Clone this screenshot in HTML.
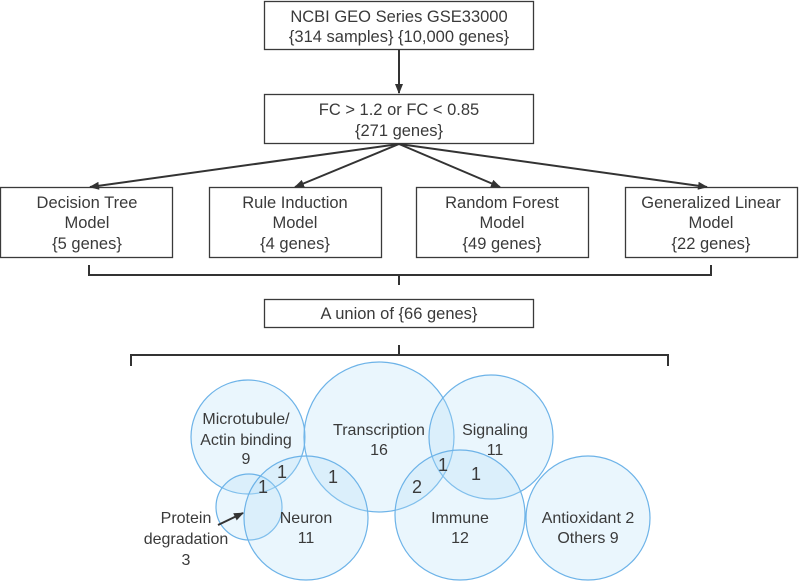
<!DOCTYPE html>
<html><head><meta charset="utf-8"><style>
html,body{margin:0;padding:0;background:#fff;}
svg{display:block;}
text{font-family:"Liberation Sans",Arial,sans-serif;fill:#3a3a3a;}
</style></head><body>
<svg width="799" height="581" viewBox="0 0 799 581" xmlns="http://www.w3.org/2000/svg">
<defs>
<marker id="ah" markerWidth="10" markerHeight="8" refX="9" refY="4" orient="auto" markerUnits="userSpaceOnUse">
<path d="M0,0 L10,4 L0,8 z" fill="#333"/>
</marker>
</defs>
<g fill="#fff" stroke="#3a3a3a" stroke-width="1.3">
<rect x="264.5" y="1.5" width="269" height="48"/>
<rect x="264.5" y="94.5" width="269" height="49"/>
<rect x="0.5" y="187.5" width="172" height="70"/>
<rect x="209.5" y="187.5" width="172" height="70"/>
<rect x="416.5" y="187.5" width="172" height="70"/>
<rect x="625.5" y="187.5" width="172" height="70"/>
<rect x="264.5" y="299.5" width="269" height="28"/>
</g>
<g stroke="#333" stroke-width="2" fill="none">
<line x1="399" y1="50" x2="399" y2="93" marker-end="url(#ah)"/>
<line x1="399" y1="144" x2="90" y2="187" marker-end="url(#ah)"/>
<line x1="399" y1="144" x2="295" y2="187" marker-end="url(#ah)"/>
<line x1="399" y1="144" x2="500" y2="187" marker-end="url(#ah)"/>
<line x1="399" y1="144" x2="707" y2="187" marker-end="url(#ah)"/>
<path d="M89,265 V275 H711 V265 M399,275 V285"/>
<path d="M131,366 V355 H668 V366 M399,355 V345"/>
</g>
<g font-size="16.5" text-anchor="middle">
<text x="399" y="22">NCBI GEO Series GSE33000</text>
<text x="399" y="42">{314 samples} {10,000 genes}</text>
<text x="399" y="115">FC &gt; 1.2 or FC &lt; 0.85</text>
<text x="399" y="136">{271 genes}</text>
<text x="87" y="208">Decision Tree</text><text x="87" y="228">Model</text><text x="87" y="249">{5 genes}</text>
<text x="295" y="208">Rule Induction</text><text x="295" y="228">Model</text><text x="295" y="249">{4 genes}</text>
<text x="502" y="208">Random Forest</text><text x="502" y="228">Model</text><text x="502" y="249">{49 genes}</text>
<text x="711" y="208">Generalized Linear</text><text x="711" y="228">Model</text><text x="711" y="249">{22 genes}</text>
<text x="399" y="319">A union of {66 genes}</text>
</g>
<g fill="rgba(180,222,248,0.28)" stroke="#6db3e8" stroke-width="1.2">
<circle cx="248" cy="437" r="57"/>
<circle cx="379" cy="437" r="75"/>
<circle cx="491" cy="437" r="62"/>
<circle cx="249" cy="507" r="33"/>
<circle cx="306" cy="518" r="62"/>
<circle cx="460" cy="515" r="65"/>
<circle cx="588" cy="518" r="62"/>
</g>
<g font-size="16" text-anchor="middle">
<text x="246" y="424">Microtubule/</text>
<text x="246" y="445">Actin binding</text>
<text x="246" y="464">9</text>
<text x="379" y="435">Transcription</text>
<text x="379" y="455">16</text>
<text x="495" y="435">Signaling</text>
<text x="495" y="455">11</text>
<text x="306" y="523">Neuron</text>
<text x="306" y="543">11</text>
<text x="460" y="523">Immune</text>
<text x="460" y="543">12</text>
<text x="588" y="523">Antioxidant 2</text>
<text x="588" y="543">Others 9</text>
<text x="186" y="523">Protein</text>
<text x="186" y="544">degradation</text>
<text x="186" y="565">3</text>
</g>
<g font-size="18" text-anchor="middle">
<text x="282" y="478">1</text>
<text x="263" y="493">1</text>
<text x="333" y="483">1</text>
<text x="417" y="493">2</text>
<text x="443" y="471">1</text>
<text x="476" y="480">1</text>
</g>
<line x1="218" y1="525" x2="243" y2="513" stroke="#333" stroke-width="2" marker-end="url(#ah)"/>
</svg>
</body></html>
